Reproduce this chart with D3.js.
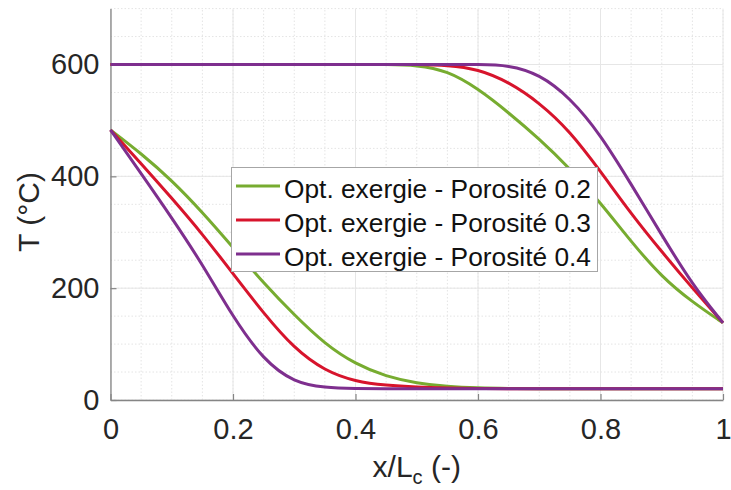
<!DOCTYPE html>
<html><head><meta charset="utf-8">
<script src="https://cdn.jsdelivr.net/npm/d3@7"></script>
<style>body{margin:0;background:#fff}svg{display:block;font-family:"Liberation Sans",Arial,Helvetica,sans-serif}</style>
</head><body>
<svg id="c" width="731" height="490"></svg>
<script>
const xs = [0,0.05,0.1,0.15,0.2,0.25,0.3,0.35,0.4,0.45,0.5,0.55,0.6,0.65,0.7,0.75,0.8,0.85,0.9,0.95,1];
const lowGreen  = [483,441,393,336,273,209,152,100,64,42,30,24,21.5,20.5,20,20,20,20,20,20,20];
const lowRed    = [483,423,361,297,226,155,92,52,33,26,23,21.5,20.5,20,20,20,20,20,20,20,20];
const lowPurple = [483,405,326,243,148,71,31,22,20.5,20,20,20,20,20,20,20,20,20,20,20,20];
const upGreen   = [600,600,600,600,600,600,600,600,600,600,599,589,557,514,467,414,353,283,220,175,138];
const upRed     = [600,600,600,600,600,600,600,600,600,600,600,599,592,569,532,481,409,333,265,200,138];
const upPurple  = [600,600,600,600,600,600,600,600,600,600,600,600,600,599,583,541,475,386,295,206,138];
const seriesNames = ["Opt. exergie - Porosité 0.2","Opt. exergie - Porosité 0.3","Opt. exergie - Porosité 0.4"];
const seriesColors = ["#77ac30","#d7142c","#7e2f8e"];
const xTicks = [0,0.2,0.4,0.6,0.8,1];
const yTicks = [0,200,400,600];

const svg = d3.select("#c");
const x = d3.scaleLinear().domain([0,1]).range([110.5,723]);
const y = d3.scaleLinear().domain([0,700]).range([400,8.6]);

// grid minor
const g = svg.append("g");
const xMinor = d3.range(0,1.0001,0.05);
const yMinor = d3.range(0,700.01,50);
g.selectAll(".xm").data(xMinor).enter().append("line")
  .attr("x1",d=>x(d)).attr("x2",d=>x(d)).attr("y1",y(0)).attr("y2",y(700))
  .attr("stroke","#e4e4e4").attr("stroke-width",1).attr("stroke-dasharray","1.5,2");
g.selectAll(".ym").data(yMinor).enter().append("line")
  .attr("x1",x(0)).attr("x2",x(1)).attr("y1",d=>y(d)).attr("y2",d=>y(d))
  .attr("stroke","#e4e4e4").attr("stroke-width",1).attr("stroke-dasharray","1.5,2");
// grid major
g.selectAll(".xM").data(xTicks).enter().append("line")
  .attr("x1",d=>x(d)).attr("x2",d=>x(d)).attr("y1",y(0)).attr("y2",y(700))
  .attr("stroke","#e6e6e6").attr("stroke-width",1);
g.selectAll(".yM").data(yTicks).enter().append("line")
  .attr("x1",x(0)).attr("x2",x(1)).attr("y1",d=>y(d)).attr("y2",d=>y(d))
  .attr("stroke","#e6e6e6").attr("stroke-width",1);

// axes
const axX = d3.axisBottom(x).tickValues(xTicks).tickFormat(d=>d===0||d===1?d3.format("d")(d):d3.format(".1f")(d)).tickSizeInner(-6).tickSizeOuter(0).tickPadding(13);
const axY = d3.axisLeft(y).tickValues(yTicks).tickFormat(d3.format("d")).tickSizeInner(-6).tickSizeOuter(0).tickPadding(11);
const gx = svg.append("g").attr("transform","translate(0,400)").call(axX);
const gy = svg.append("g").attr("transform","translate(110.5,0)").call(axY);
[gx,gy].forEach(a=>{
  a.select(".domain").attr("stroke","#858585").attr("stroke-width",1.3);
  a.selectAll(".tick line").attr("stroke","#858585").attr("stroke-width",1.2);
  a.selectAll(".tick text").attr("fill","#262626").attr("font-size",29).attr("font-family","Liberation Sans, Arial, sans-serif");
});
gx.selectAll(".tick text").attr("dy","0.71em").attr("y",18);

// lines
const line = d3.line().x((d,i)=>x(xs[i])).y(d=>y(d)).curve(d3.curveBasis);
const pairs = [[lowGreen,upGreen],[lowRed,upRed],[lowPurple,upPurple]];
pairs.forEach((p,k)=>{
  p.forEach(arr=>{
    svg.append("path").attr("d",line(arr)).attr("fill","none")
      .attr("stroke",seriesColors[k]).attr("stroke-width",3).attr("stroke-linejoin","round");
  });
});

// legend
const lg = svg.append("g");
lg.append("rect").attr("x",231.5).attr("y",167.5).attr("width",366).attr("height",104)
  .attr("fill","#fff").attr("stroke","#a6a6a6").attr("stroke-width",1);
seriesNames.forEach((n,i)=>{
  const yy = 186 + i*34;
  lg.append("line").attr("x1",236).attr("x2",280).attr("y1",yy).attr("y2",yy)
    .attr("stroke",seriesColors[i]).attr("stroke-width",3);
  lg.append("text").attr("x",284).attr("y",yy+12).attr("font-size",26.3).attr("fill","#111").text(n);
});

// axis labels
svg.append("text").attr("transform","translate(39,212) rotate(-90)").attr("text-anchor","middle")
  .attr("font-size",30).attr("fill","#262626").text("T (°C)");
const xl = svg.append("text").attr("x",416.75).attr("y",477).attr("text-anchor","middle")
  .attr("font-size",30).attr("fill","#262626");
xl.append("tspan").text("x/L");
xl.append("tspan").attr("font-size",20).attr("dy",7).text("c");
xl.append("tspan").attr("dy",-7).text(" (-)");
</script>
</body></html>
